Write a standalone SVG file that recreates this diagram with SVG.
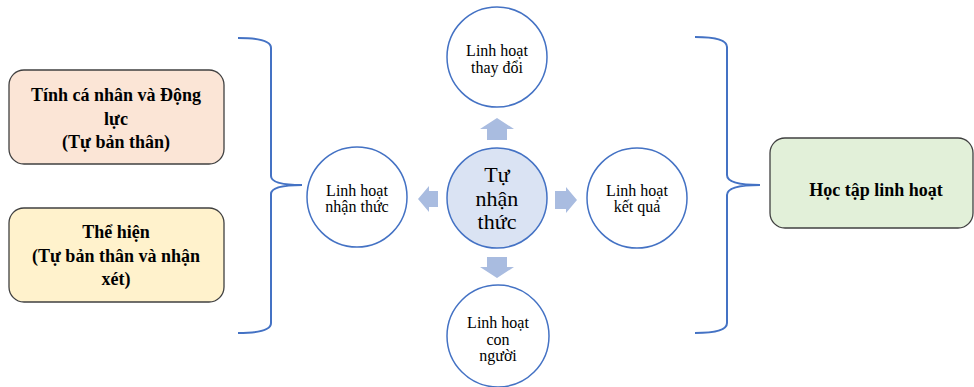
<svg xmlns="http://www.w3.org/2000/svg" width="974" height="387" viewBox="0 0 974 387">
<style>
.box{stroke:#404040;stroke-width:1.3}
.bt{font-family:'Liberation Serif',serif;font-weight:bold;font-size:18px;fill:#000;text-anchor:middle}
.circ{fill:#fff;stroke:#4472C4;stroke-width:1.5}
.ct{font-family:'Liberation Serif',serif;font-size:16px;fill:#000;text-anchor:middle}
.big{font-family:'Liberation Serif',serif;font-size:22px;fill:#000;text-anchor:middle}
.brace{fill:none;stroke:#4472C4;stroke-width:2}
.arr{fill:#A9BCE0}
</style>
<rect width="974" height="387" fill="#fff"/>
<g id="box-personality">
<rect class="box" x="9" y="70" width="215" height="94" rx="15" fill="#FBE5D6"/>
<text class="bt" x="116" y="101">Tính cá nhân và Động</text>
<text class="bt" x="116" y="125">lực</text>
<text class="bt" x="116" y="148">(Tự bản thân)</text>
</g>
<g id="box-expression">
<rect class="box" x="9" y="208" width="215" height="94" rx="15" fill="#FFF2CC"/>
<text class="bt" x="116" y="238">Thể hiện</text>
<text class="bt" x="116" y="262">(Tự bản thân và nhận</text>
<text class="bt" x="116" y="285">xét)</text>
</g>
<g id="box-learning">
<rect class="box" x="770" y="138" width="203" height="90" rx="15" fill="#E2F0D9"/>
<text class="bt" x="876" y="196">Học tập linh hoạt</text>
</g>
<g id="circle-top">
<circle class="circ" cx="497" cy="57" r="50"/>
<text class="ct" x="497" y="56">Linh hoạt</text>
<text class="ct" x="497" y="73">thay đổi</text>
</g>
<g id="circle-center">
<circle class="circ" cx="497" cy="198" r="50" style="fill:#DAE3F3"/>
<text class="big" x="497" y="182">Tự</text>
<text class="big" x="497" y="206">nhận</text>
<text class="big" x="497" y="229">thức</text>
</g>
<g id="circle-left">
<circle class="circ" cx="357" cy="197" r="50"/>
<text class="ct" x="357" y="196">Linh hoạt</text>
<text class="ct" x="357" y="212">nhận thức</text>
</g>
<g id="circle-right">
<circle class="circ" cx="637" cy="198" r="50"/>
<text class="ct" x="637" y="196">Linh hoạt</text>
<text class="ct" x="637" y="212">kết quả</text>
</g>
<g id="circle-bottom">
<circle class="circ" cx="498" cy="336" r="51"/>
<text class="ct" x="498" y="328">Linh hoạt</text>
<text class="ct" x="498" y="345">con</text>
<text class="ct" x="498" y="361">người</text>
</g>
<g id="connectors">
<path class="brace" d="M238,38 Q271,38 271,48 L271,176 Q271,185 302,185 Q271,185 271,194 L271,323 Q271,333 238,333"/>
<path class="brace" d="M695,37 Q727,37 727,47 L727,175 Q727,185 760,185 Q727,185 727,195 L727,323 Q727,333 695,333"/>
<polygon class="arr" points="497,118 514,129 507,129 507,140 487,140 487,129 480,129"/>
<polygon class="arr" points="487,257 507,257 507,267 514,267 497,278 480,267 487,267"/>
<polygon class="arr" points="418,199 429,186 429,191 438,191 438,207 429,207 429,212"/>
<polygon class="arr" points="555,191 566,191 566,187 577,200 566,213 566,209 555,209"/>
</g>
</svg>
